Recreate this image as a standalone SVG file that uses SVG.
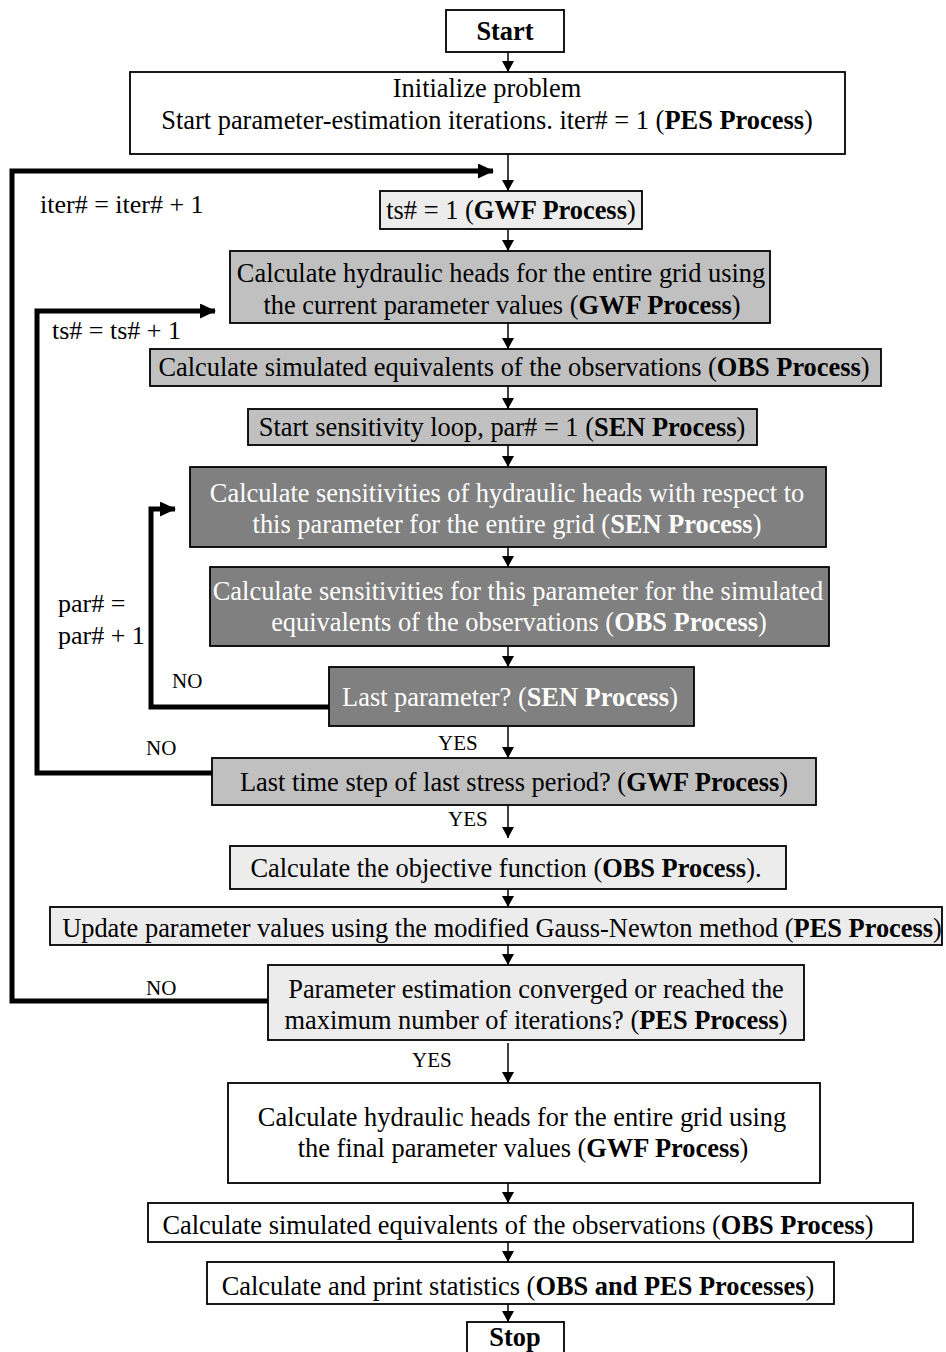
<svg xmlns="http://www.w3.org/2000/svg" width="946" height="1352" viewBox="0 0 946 1352">
<style>
.box{stroke:#000;stroke-width:1.8}
.w{fill:#fff}.l{fill:#ececec}.m{fill:#c0c0c0}.d{fill:#808080}
text{font-family:"Liberation Serif","Times New Roman",serif;font-size:26.4px;fill:#000}
.c{text-anchor:middle}
.wt{fill:#fff}
.b{font-weight:bold}
.lab{font-size:21px}
.lp{font-size:26px}
.thin{stroke:#000;stroke-width:1.5;fill:none}
.thick{stroke:#000;stroke-width:5;fill:none}
</style>
<defs>
<marker id="ah" markerUnits="userSpaceOnUse" markerWidth="12" markerHeight="12" viewBox="0 0 12 12" refX="11" refY="6" orient="auto">
<path d="M0,0 L11,6 L0,12 z" fill="#000"/>
</marker>
<marker id="ahb" markerUnits="userSpaceOnUse" markerWidth="16" markerHeight="15" viewBox="0 0 16 15" refX="15" refY="7.5" orient="auto">
<path d="M0,0 L16,7.5 L0,15 z" fill="#000"/>
</marker>
</defs>
<rect width="946" height="1352" fill="#fff"/>
<g id="connectors">
<path class="thick" d="M268,1001 H12 V171 H493" marker-end="url(#ahb)"/>
<path class="thick" d="M212,773 H37 V311 H215" marker-end="url(#ahb)"/>
<path class="thick" d="M329,707 H151 V509 H175" marker-end="url(#ahb)"/>
<path class="thin" d="M508,52 V72" marker-end="url(#ah)"/>
<path class="thin" d="M508,154 V191" marker-end="url(#ah)"/>
<path class="thin" d="M508,229 V251" marker-end="url(#ah)"/>
<path class="thin" d="M508,323 V349" marker-end="url(#ah)"/>
<path class="thin" d="M508,386 V409" marker-end="url(#ah)"/>
<path class="thin" d="M508,445 V467" marker-end="url(#ah)"/>
<path class="thin" d="M508,547 V567" marker-end="url(#ah)"/>
<path class="thin" d="M508,646 V667" marker-end="url(#ah)"/>
<path class="thin" d="M508,726 V758" marker-end="url(#ah)"/>
<path class="thin" d="M508,805 V838" marker-end="url(#ah)"/>
<path class="thin" d="M508,889 V907" marker-end="url(#ah)"/>
<path class="thin" d="M508,945 V965" marker-end="url(#ah)"/>
<path class="thin" d="M508,1043 V1083" marker-end="url(#ah)"/>
<path class="thin" d="M508,1183 V1203" marker-end="url(#ah)"/>
<path class="thin" d="M508,1242 V1262" marker-end="url(#ah)"/>
<path class="thin" d="M508,1304 V1322" marker-end="url(#ah)"/>
<text class="lp" x="40" y="213">iter# = iter# + 1</text>
<text class="lp" x="52" y="339">ts# = ts# + 1</text>
<text class="lp" x="58" y="612">par# =</text>
<text class="lp" x="58" y="644">par# + 1</text>
<text class="lab" x="172" y="688">NO</text>
<text class="lab" x="438" y="750">YES</text>
<text class="lab" x="146" y="755">NO</text>
<text class="lab" x="448" y="826">YES</text>
<text class="lab" x="146" y="995">NO</text>
<text class="lab" x="412" y="1067">YES</text>
</g>
<g id="start"><rect class="box w" x="446" y="10" width="118" height="42"/><text class="c b" x="505" y="40">Start</text></g>
<g id="init"><rect class="box w" x="130" y="72" width="715" height="82"/>
<text class="c" x="487" y="97">Initialize problem</text>
<text class="c" x="487" y="129">Start parameter-estimation iterations. iter# = 1 (<tspan class="b">PES Process</tspan>)</text></g>
<g id="ts1"><rect class="box l" x="380" y="191" width="262" height="38"/><text class="c" x="511" y="219">ts# = 1 (<tspan class="b">GWF Process</tspan>)</text></g>
<g id="heads"><rect class="box m" x="230" y="251" width="540" height="72"/>
<text class="c" x="501" y="282">Calculate hydraulic heads for the entire grid using</text>
<text class="c" x="502" y="314">the current parameter values (<tspan class="b">GWF Process</tspan>)</text></g>
<g id="obs1"><rect class="box m" x="150" y="349" width="731" height="37"/><text class="c" x="514" y="376">Calculate simulated equivalents of the observations (<tspan class="b">OBS Process</tspan>)</text></g>
<g id="senstart"><rect class="box m" x="248" y="409" width="509" height="36"/><text class="c" x="502" y="436">Start sensitivity loop, par# = 1 (<tspan class="b">SEN Process</tspan>)</text></g>
<g id="sens1"><rect class="box d" x="190" y="467" width="636" height="80"/>
<text class="c wt" x="507" y="502">Calculate sensitivities of hydraulic heads with respect to</text>
<text class="c wt" x="507" y="533">this parameter for the entire grid (<tspan class="b">SEN Process</tspan>)</text></g>
<g id="sens2"><rect class="box d" x="210" y="567" width="619" height="79"/>
<text class="c wt" x="518" y="600">Calculate sensitivities for this parameter for the simulated</text>
<text class="c wt" x="519" y="631">equivalents of the observations (<tspan class="b">OBS Process</tspan>)</text></g>
<g id="lastpar"><rect class="box d" x="329" y="667" width="365" height="59"/><text class="c wt" x="510" y="706">Last parameter? (<tspan class="b">SEN Process</tspan>)</text></g>
<g id="lastts"><rect class="box m" x="212" y="758" width="604" height="47"/><text class="c" x="514" y="791">Last time step of last stress period? (<tspan class="b">GWF Process</tspan>)</text></g>
<g id="objective"><rect class="box l" x="230" y="846" width="556" height="43"/><text class="c" x="506" y="877">Calculate the objective function (<tspan class="b">OBS Process</tspan>).</text></g>
<g id="update"><rect class="box l" x="50" y="907" width="892" height="38"/><text class="c" x="502" y="937">Update parameter values using the modified Gauss-Newton method (<tspan class="b">PES Process</tspan>)</text></g>
<g id="converged"><rect class="box l" x="268" y="965" width="536" height="75"/>
<text class="c" x="536" y="998">Parameter estimation converged or reached the</text>
<text class="c" x="536" y="1029">maximum number of iterations? (<tspan class="b">PES Process</tspan>)</text></g>
<g id="final"><rect class="box w" x="228" y="1083" width="592" height="100"/>
<text class="c" x="522" y="1126">Calculate hydraulic heads for the entire grid using</text>
<text class="c" x="523" y="1157">the final parameter values (<tspan class="b">GWF Process</tspan>)</text></g>
<g id="obs2"><rect class="box w" x="148" y="1203" width="765" height="39"/><text class="c" x="518" y="1234">Calculate simulated equivalents of the observations (<tspan class="b">OBS Process</tspan>)</text></g>
<g id="stats"><rect class="box w" x="207" y="1262" width="627" height="42"/><text class="c" x="518" y="1295">Calculate and print statistics (<tspan class="b">OBS and PES Processes</tspan>)</text></g>
<g id="stop"><rect class="box w" x="467" y="1322" width="97" height="40"/><text class="c b" x="515" y="1346">Stop</text></g>
</svg>
